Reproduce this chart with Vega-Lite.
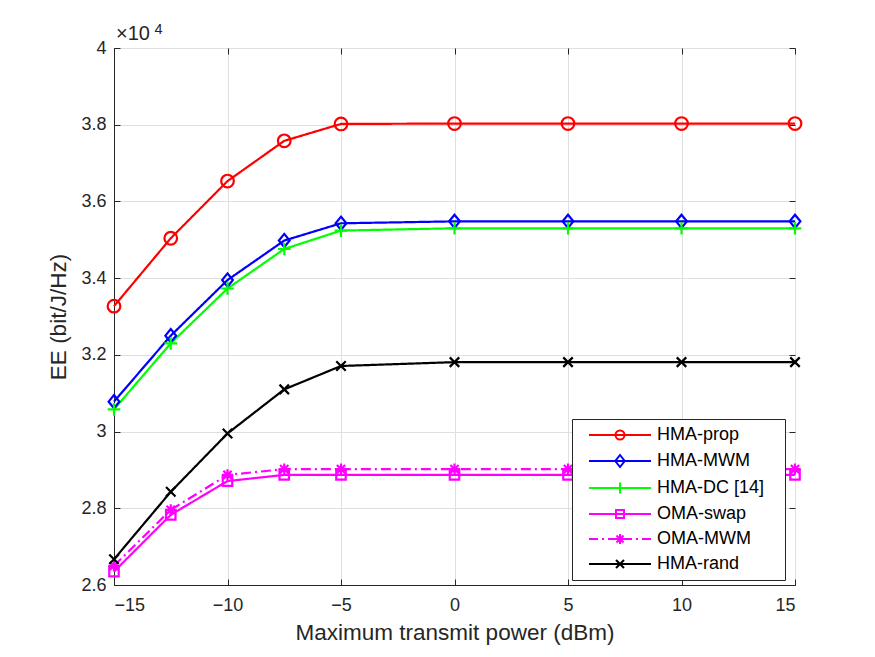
{
  "$schema": "https://vega.github.io/schema/vega-lite/v6.json",
  "width": 681,
  "height": 537,
  "autosize": {"type": "none"},
  "padding": {"left": 114, "top": 48, "right": 80, "bottom": 72},
  "background": "white",
  "title": {
    "text": "×10",
    "anchor": "start",
    "frame": "group",
    "orient": "top",
    "offset": 2,
    "dx": 2,
    "dy": 25,
    "font": "Liberation Sans",
    "fontSize": 20,
    "fontWeight": "normal",
    "color": "#262626"
  },
  "config": {
    "view": {"stroke": "#262626", "strokeWidth": 1},
    "axis": {
      "labelFont": "Liberation Sans",
      "labelFontSize": 18,
      "labelColor": "#262626",
      "titleFont": "Liberation Sans",
      "titleFontSize": 22.5,
      "titleFontWeight": "normal",
      "titleColor": "#262626",
      "domainColor": "#262626",
      "domainWidth": 1,
      "tickColor": "#262626",
      "tickWidth": 1,
      "tickSize": -6,
      "gridColor": "#dfdfdf",
      "gridWidth": 1
    },
    "legend": {
      "orient": "none",
      "legendX": 458,
      "legendY": 371,
      "fillColor": "white",
      "strokeColor": "#262626",
      "padding": 7,
      "rowPadding": 7,
      "labelFont": "Liberation Sans",
      "labelFontSize": 18,
      "labelColor": "#000000",
      "symbolSize": 100,
      "symbolStrokeWidth": 2,
      "symbolFillColor": "transparent",
      "symbolOpacity": 1,
      "symbolOffset": 32,
      "labelOffset": 28
    }
  },
  "data": {
    "values": [
      {"series": "HMA-prop", "power": -15, "ee": 33270},
      {"series": "HMA-prop", "power": -12.5, "ee": 35040},
      {"series": "HMA-prop", "power": -10, "ee": 36530},
      {"series": "HMA-prop", "power": -7.5, "ee": 37580},
      {"series": "HMA-prop", "power": -5, "ee": 38020},
      {"series": "HMA-prop", "power": 0, "ee": 38030},
      {"series": "HMA-prop", "power": 5, "ee": 38030},
      {"series": "HMA-prop", "power": 10, "ee": 38030},
      {"series": "HMA-prop", "power": 15, "ee": 38030},

      {"series": "HMA-MWM", "power": -15, "ee": 30780},
      {"series": "HMA-MWM", "power": -12.5, "ee": 32500},
      {"series": "HMA-MWM", "power": -10, "ee": 33950},
      {"series": "HMA-MWM", "power": -7.5, "ee": 34980},
      {"series": "HMA-MWM", "power": -5, "ee": 35430},
      {"series": "HMA-MWM", "power": 0, "ee": 35480},
      {"series": "HMA-MWM", "power": 5, "ee": 35480},
      {"series": "HMA-MWM", "power": 10, "ee": 35480},
      {"series": "HMA-MWM", "power": 15, "ee": 35480},

      {"series": "HMA-DC [14]", "power": -15, "ee": 30580},
      {"series": "HMA-DC [14]", "power": -12.5, "ee": 32300},
      {"series": "HMA-DC [14]", "power": -10, "ee": 33730},
      {"series": "HMA-DC [14]", "power": -7.5, "ee": 34760},
      {"series": "HMA-DC [14]", "power": -5, "ee": 35240},
      {"series": "HMA-DC [14]", "power": 0, "ee": 35300},
      {"series": "HMA-DC [14]", "power": 5, "ee": 35300},
      {"series": "HMA-DC [14]", "power": 10, "ee": 35300},
      {"series": "HMA-DC [14]", "power": 15, "ee": 35300},

      {"series": "OMA-swap", "power": -15, "ee": 26350},
      {"series": "OMA-swap", "power": -12.5, "ee": 27830},
      {"series": "OMA-swap", "power": -10, "ee": 28710},
      {"series": "OMA-swap", "power": -7.5, "ee": 28870},
      {"series": "OMA-swap", "power": -5, "ee": 28870},
      {"series": "OMA-swap", "power": 0, "ee": 28870},
      {"series": "OMA-swap", "power": 5, "ee": 28870},
      {"series": "OMA-swap", "power": 10, "ee": 28870},
      {"series": "OMA-swap", "power": 15, "ee": 28870},

      {"series": "OMA-MWM", "power": -15, "ee": 26500},
      {"series": "OMA-MWM", "power": -12.5, "ee": 27960},
      {"series": "OMA-MWM", "power": -10, "ee": 28870},
      {"series": "OMA-MWM", "power": -7.5, "ee": 29020},
      {"series": "OMA-MWM", "power": -5, "ee": 29020},
      {"series": "OMA-MWM", "power": 0, "ee": 29020},
      {"series": "OMA-MWM", "power": 5, "ee": 29020},
      {"series": "OMA-MWM", "power": 10, "ee": 29020},
      {"series": "OMA-MWM", "power": 15, "ee": 29020},

      {"series": "HMA-rand", "power": -15, "ee": 26670},
      {"series": "HMA-rand", "power": -12.5, "ee": 28430},
      {"series": "HMA-rand", "power": -10, "ee": 29950},
      {"series": "HMA-rand", "power": -7.5, "ee": 31100},
      {"series": "HMA-rand", "power": -5, "ee": 31710},
      {"series": "HMA-rand", "power": 0, "ee": 31810},
      {"series": "HMA-rand", "power": 5, "ee": 31810},
      {"series": "HMA-rand", "power": 10, "ee": 31810},
      {"series": "HMA-rand", "power": 15, "ee": 31810}
    ]
  },
  "resolve": {"axis": {"x": "independent", "y": "independent"}},
  "layer": [
    {
      "description": "Invisible points that carry the legend: each legend symbol is a line segment with its marker.",
      "mark": {"type": "point", "filled": false, "opacity": 0, "size": 100, "strokeWidth": 2},
      "encoding": {
        "x": {
          "field": "power",
          "type": "quantitative",
          "scale": {"domain": [-15, 15], "nice": false, "zero": false},
          "axis": {
            "orient": "top",
            "title": "4",
            "titleX": 40,
            "titleY": -15,
            "titleAlign": "left",
            "titleBaseline": "alphabetic",
            "titleAngle": 0,
            "titleFontSize": 14.5,
            "values": [-15, -10, -5, 0, 5, 10, 15],
            "labels": false,
            "grid": false,
            "domain": false
          }
        },
        "y": {
          "field": "ee",
          "type": "quantitative",
          "scale": {"domain": [26000, 40000], "nice": false, "zero": false},
          "axis": {
            "orient": "right",
            "title": null,
            "values": [26000, 28000, 30000, 32000, 34000, 36000, 38000, 40000],
            "labels": false,
            "grid": false,
            "domain": false
          }
        },
        "color": {
          "field": "series",
          "type": "nominal",
          "scale": {
            "domain": ["HMA-prop", "HMA-MWM", "HMA-DC [14]", "OMA-swap", "OMA-MWM", "HMA-rand"],
            "range": ["#ff0000", "#0000ff", "#00ff00", "#ff00ff", "#ff00ff", "#000000"]
          },
          "legend": {"title": "\u00a0", "titleOrient": "right", "titlePadding": 14, "titleFontSize": 18}
        },
        "shape": {
          "field": "series",
          "type": "nominal",
          "scale": {
            "domain": ["HMA-prop", "HMA-MWM", "HMA-DC [14]", "OMA-swap", "OMA-MWM", "HMA-rand"],
            "range": [
              "M-6.2,0L6.2,0M-0.9,0A0.9,0.9,0,1,1,0.9,0A0.9,0.9,0,1,1,-0.9,0",
              "M-6.2,0L6.2,0M0,-1.2L0.95,0L0,1.2L-0.95,0Z",
              "M-6.2,0L6.2,0M0,-1.1L0,1.1",
              "M-6.2,0L6.2,0M-0.8,-0.8L0.8,-0.8L0.8,0.8L-0.8,0.8Z",
              "M-6.2,0L-4.4,0M-3.6,0L-3.2,0M-2.4,0L-0.6,0M0.6,0L2.4,0M3.2,0L3.6,0M4.4,0L6.2,0M-1,0L1,0M0,-1L0,1M-0.7,-0.7L0.7,0.7M-0.7,0.7L0.7,-0.7",
              "M-6.2,0L6.2,0M-0.8,-0.8L0.8,0.8M-0.8,0.8L0.8,-0.8"
            ]
          },
          "legend": {"title": "\u00a0", "titleOrient": "right", "titlePadding": 14, "titleFontSize": 18}
        }
      }
    },
    {
      "mark": {"type": "line", "strokeWidth": 2.2},
      "encoding": {
        "x": {
          "field": "power",
          "type": "quantitative",
          "axis": {
            "orient": "bottom",
            "title": "Maximum transmit power (dBm)",
            "values": [-15, -10, -5, 0, 5, 10, 15],
            "labelPadding": 17,
            "titlePadding": 7,
            "grid": true
          }
        },
        "y": {
          "field": "ee",
          "type": "quantitative",
          "axis": {
            "orient": "left",
            "title": "EE (bit/J/Hz)",
            "values": [26000, 28000, 30000, 32000, 34000, 36000, 38000, 40000],
            "labelExpr": "'' + (datum.value / 10000)",
            "labelPadding": 14,
            "titlePadding": 10,
            "grid": true
          }
        },
        "color": {"field": "series", "type": "nominal", "legend": {"title": "\u00a0", "titleOrient": "right", "titlePadding": 14, "titleFontSize": 18}},
        "strokeDash": {
          "field": "series",
          "type": "nominal",
          "scale": {
            "domain": ["HMA-DC [14]", "HMA-MWM", "HMA-prop", "HMA-rand", "OMA-MWM", "OMA-swap"],
            "range": [[1, 0], [1, 0], [1, 0], [1, 0], [10, 4, 2, 4], [1, 0]]
          },
          "legend": null
        }
      }
    },
    {
      "transform": [{"filter": "datum.series === 'HMA-prop'"}],
      "mark": {"type": "point", "shape": "circle", "filled": false, "strokeWidth": 2.2, "size": 160, "opacity": 1},
      "encoding": {
        "x": {"field": "power", "type": "quantitative", "axis": null},
        "y": {"field": "ee", "type": "quantitative", "axis": null},
        "color": {"field": "series", "type": "nominal", "legend": null}
      }
    },
    {
      "transform": [{"filter": "datum.series === 'HMA-MWM'"}],
      "mark": {"type": "point", "shape": "M0,-1.05L0.85,0L0,1.05L-0.85,0Z", "filled": false, "strokeWidth": 2.2, "size": 160, "opacity": 1},
      "encoding": {
        "x": {"field": "power", "type": "quantitative", "axis": null},
        "y": {"field": "ee", "type": "quantitative", "axis": null},
        "color": {"field": "series", "type": "nominal", "legend": null}
      }
    },
    {
      "transform": [{"filter": "datum.series === 'HMA-DC [14]'"}],
      "mark": {"type": "point", "shape": "M-1,0L1,0M0,-1L0,1", "filled": false, "strokeWidth": 2.2, "size": 160, "opacity": 1},
      "encoding": {
        "x": {"field": "power", "type": "quantitative", "axis": null},
        "y": {"field": "ee", "type": "quantitative", "axis": null},
        "color": {"field": "series", "type": "nominal", "legend": null}
      }
    },
    {
      "transform": [{"filter": "datum.series === 'OMA-swap'"}],
      "mark": {"type": "point", "shape": "M-0.75,-0.75L0.75,-0.75L0.75,0.75L-0.75,0.75Z", "filled": false, "strokeWidth": 2.2, "size": 160, "opacity": 1},
      "encoding": {
        "x": {"field": "power", "type": "quantitative", "axis": null},
        "y": {"field": "ee", "type": "quantitative", "axis": null},
        "color": {"field": "series", "type": "nominal", "legend": null}
      }
    },
    {
      "transform": [{"filter": "datum.series === 'OMA-MWM'"}],
      "mark": {"type": "point", "shape": "M-0.9,0L0.9,0M0,-0.9L0,0.9M-0.65,-0.65L0.65,0.65M-0.65,0.65L0.65,-0.65", "filled": false, "strokeWidth": 2.2, "size": 160, "opacity": 1},
      "encoding": {
        "x": {"field": "power", "type": "quantitative", "axis": null},
        "y": {"field": "ee", "type": "quantitative", "axis": null},
        "color": {"field": "series", "type": "nominal", "legend": null}
      }
    },
    {
      "transform": [{"filter": "datum.series === 'HMA-rand'"}],
      "mark": {"type": "point", "shape": "M-0.75,-0.75L0.75,0.75M-0.75,0.75L0.75,-0.75", "filled": false, "strokeWidth": 2.2, "size": 160, "opacity": 1},
      "encoding": {
        "x": {"field": "power", "type": "quantitative", "axis": null},
        "y": {"field": "ee", "type": "quantitative", "axis": null},
        "color": {"field": "series", "type": "nominal", "legend": null}
      }
    }
  ]
}
